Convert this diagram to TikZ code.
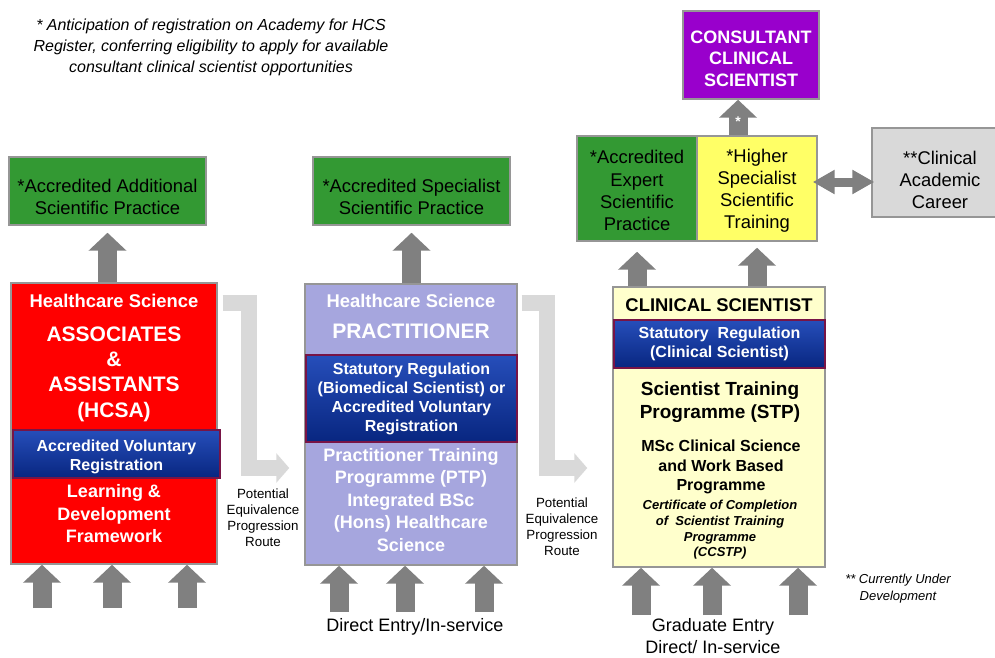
\documentclass[tikz,border=0pt]{standalone}
\usepackage{fontspec}
\setmainfont{Liberation Sans}
\usepackage{tikz}
\usetikzlibrary{arrows.meta,positioning,calc}

\definecolor{hcsared}{RGB}{255,0,0}
\definecolor{ptplilac}{RGB}{166,166,222}
\definecolor{stpcream}{RGB}{255,255,204}
\definecolor{accgreen}{RGB}{51,153,51}
\definecolor{hsstyellow}{RGB}{255,255,102}
\definecolor{consviolet}{RGB}{153,0,204}
\definecolor{careergray}{RGB}{217,217,217}
\definecolor{arrowgray}{RGB}{128,128,128}
\definecolor{routegray}{RGB}{217,217,217}
\definecolor{boxline}{RGB}{150,150,150}
\definecolor{bandtop}{RGB}{38,78,186}
\definecolor{bandmid}{RGB}{6,52,160}
\definecolor{bandbot}{RGB}{8,38,128}
\definecolor{bandedge}{RGB}{120,20,70}

\newcommand{\fsz}[2]{\fontsize{#1}{#2}\selectfont}
\newcommand{\lift}[1]{\rule{0pt}{#1}}

\begin{document}
\begin{tikzpicture}[
    x=0.75pt, y=-0.75pt,
    sz/.style 2 args={minimum width=#1*0.75pt, minimum height=#2*0.75pt},
    box/.style={rectangle, draw=boxline, line width=1.1pt, inner sep=0pt, align=center, font=\fsz{13.8pt}{16.6pt}},
    band/.style={rectangle, draw=bandedge, line width=1.1pt, top color=bandtop, middle color=bandmid, bottom color=bandbot, inner sep=0pt, align=center, text=white, font=\fsz{12pt}{14.25pt}\bfseries},
    wtxt/.style={text=white, align=center, inner sep=0pt},
    btxt/.style={text=black, align=center, inner sep=0pt},
    fatarrow/.style={draw=arrowgray, line width=14.25pt, -{Triangle[length=13.5pt, width=27.75pt]}},
    dblarrow/.style={draw=arrowgray, line width=6.75pt, {Triangle[length=16.5pt, width=17.25pt]}-{Triangle[length=16.5pt, width=17.25pt]}},
    routearrow/.style={draw=routegray, line width=12pt, -{Triangle[length=9.75pt, width=21.75pt]}}
]
\useasboundingbox (0,0) rectangle (995,657);

% === NOTE (top left) ===
\node[btxt, font=\fsz{12pt}{15.75pt}\itshape] (note) at (211,47) {* Anticipation of registration on Academy for HCS\\Register, conferring eligibility to apply for available\\consultant clinical scientist opportunities};

% === HCSA (left) ===
\node[box, fill=accgreen, sz={197}{68}] (aasp) at (107.5,191) {\lift{19pt}*Accredited Additional\\Scientific Practice};
\node[box, fill=hcsared, sz={206}{281}] (hcsa) at (114,423.5) {};
\node[wtxt, font=\fsz{13.8pt}{16pt}\bfseries] (hcsatitle) at (114,301) {Healthcare Science};
\node[wtxt, font=\fsz{15.75pt}{19pt}\bfseries] (hcsaname) at (114,374) {ASSOCIATES\\\&\\ASSISTANTS\\(HCSA)};
\node[band, sz={207}{48}] (avr) at (116.5,454) {\lift{13.5pt}Accredited Voluntary\\Registration};
\node[wtxt, font=\fsz{13.5pt}{16.9pt}\bfseries] (ldf) at (114,514) {Learning \&\\Development\\Framework};

% === PRACTITIONER (middle) ===
\node[box, fill=accgreen, sz={197}{68}] (assp) at (411.5,191) {\lift{19pt}*Accredited Specialist\\Scientific Practice};
\node[box, fill=ptplilac, sz={212}{281}] (ptp) at (411,424.5) {};
\node[wtxt, font=\fsz{13.8pt}{16pt}\bfseries] (ptptitle) at (411,301) {Healthcare Science};
\node[wtxt, font=\fsz{15.75pt}{19pt}\bfseries] (ptpname) at (411,331) {PRACTITIONER};
\node[band, sz={211}{87}] (srbms) at (411.5,398.5) {Statutory Regulation\\(Biomedical Scientist) or\\Accredited Voluntary\\Registration};
\node[wtxt, font=\fsz{13.5pt}{16.9pt}\bfseries] (ptpprog) at (411,500) {Practitioner Training\\Programme (PTP)\\Integrated BSc\\(Hons) Healthcare\\Science};
\node[btxt, font=\fsz{13.5pt}{16.5pt}] (direct) at (415,627) {Direct Entry/In-service};

% === CLINICAL SCIENTIST (right) ===
\node[box, fill=consviolet, text=white, font=\fsz{13.5pt}{16.1pt}\bfseries, sz={136}{88}] (cons) at (751,55) {\lift{15pt}CONSULTANT\\CLINICAL\\SCIENTIST};
\node[box, fill=accgreen, sz={120}{105}] (aesp) at (637,188.5) {\lift{13pt}*Accredited\\Expert\\Scientific\\Practice};
\node[box, fill=hsstyellow, sz={120}{105}] (hsst) at (757,188.5) {\lift{13pt}*Higher\\Specialist\\Scientific\\Training};
\node[box, fill=careergray, sz={136}{89}] (career) at (940,172.5) {\lift{21.5pt}**Clinical\\Academic\\Career};

\node[box, fill=stpcream, sz={212}{280}] (stp) at (719,427) {};
\node[btxt, font=\fsz{13.8pt}{16pt}\bfseries] (stptitle) at (719,305) {CLINICAL SCIENTIST};
\node[band, sz={211}{48}] (srcs) at (719.5,344) {Statutory~ Regulation\\(Clinical Scientist)};
\node[btxt, font=\fsz{14.25pt}{17.25pt}\bfseries] (stpname) at (720,402) {Scientist Training\\Programme (STP)};
\node[btxt, font=\fsz{12pt}{14.6pt}\bfseries] (msc) at (721,467) {MSc Clinical Science\\and Work Based\\Programme};
\node[btxt, font=\fsz{9.75pt}{11.8pt}\bfseries\itshape] (ccstp) at (720,530) {Certificate of Completion\\of~ Scientist Training\\Programme\\(CCSTP)};
\node[btxt, font=\fsz{13.5pt}{16.5pt}] (graduate) at (713,636) {Graduate Entry\\Direct/ In-service};
\node[btxt, font=\fsz{9.75pt}{12.75pt}\itshape] (devnote) at (898,589) {** Currently Under\\Development};

% === ROUTE LABELS ===
\node[btxt, font=\fsz{10pt}{12pt}] (route1) at (263,518) {Potential\\Equivalence\\Progression\\Route};
\node[btxt, font=\fsz{10pt}{12pt}] (route2) at (562,527) {Potential\\Equivalence\\Progression\\Route};

% === ENTRY ARROWS ===
\foreach \ax/\ay [count=\i] in {42/608, 112/608, 187/608, 339/612, 405/612, 484/612, 641/615, 712/615, 798/615} {
  \coordinate (in\i) at (\ax,\ay);
}
\foreach \i in {1,2,3} \draw[fatarrow] (in\i) -- (in\i |- hcsa.south);
\foreach \i in {4,5,6} \draw[fatarrow] (in\i) -- (in\i |- ptp.south);
\foreach \i in {7,8,9} \draw[fatarrow] (in\i) -- (in\i |- stp.south);

% === PROGRESSION ARROWS ===
\draw[fatarrow, shorten >=5.25pt] (hcsa.north -| aasp.south) -- (aasp.south);
\draw[fatarrow, shorten >=5.25pt] (ptp.north -| assp.south) -- (assp.south);
\draw[fatarrow, shorten >=7.5pt] (stp.north -| aesp.south) -- (aesp.south);
\draw[fatarrow, shorten >=4.5pt] (stp.north -| hsst.south) -- (hsst.south);

\coordinate (cup) at (738,0);
\draw[fatarrow] (hsst.north -| cup) -- (cons.south -| cup)
  node[pos=0.38, text=white, font=\fsz{10.5pt}{12pt}\bfseries] {*};

\coordinate (acy) at (0,182);
\draw[dblarrow, shorten <=-3.75pt, shorten >=-2.25pt] (hsst.east |- acy) -- (career.west |- acy);

% === EQUIVALENCE ROUTES ===
\coordinate (bend1) at (249,468);
\coordinate (bend2) at (547,468);
\draw[routearrow, shorten <=3.75pt, shorten >=11.25pt] (hcsa.east |- 0,303) -| (bend1) -- (ptp.west |- bend1);
\draw[routearrow, shorten <=3pt, shorten >=18.75pt] (ptp.east |- 0,303) -| (bend2) -- (stp.west |- bend2);

\end{tikzpicture}
\end{document}
